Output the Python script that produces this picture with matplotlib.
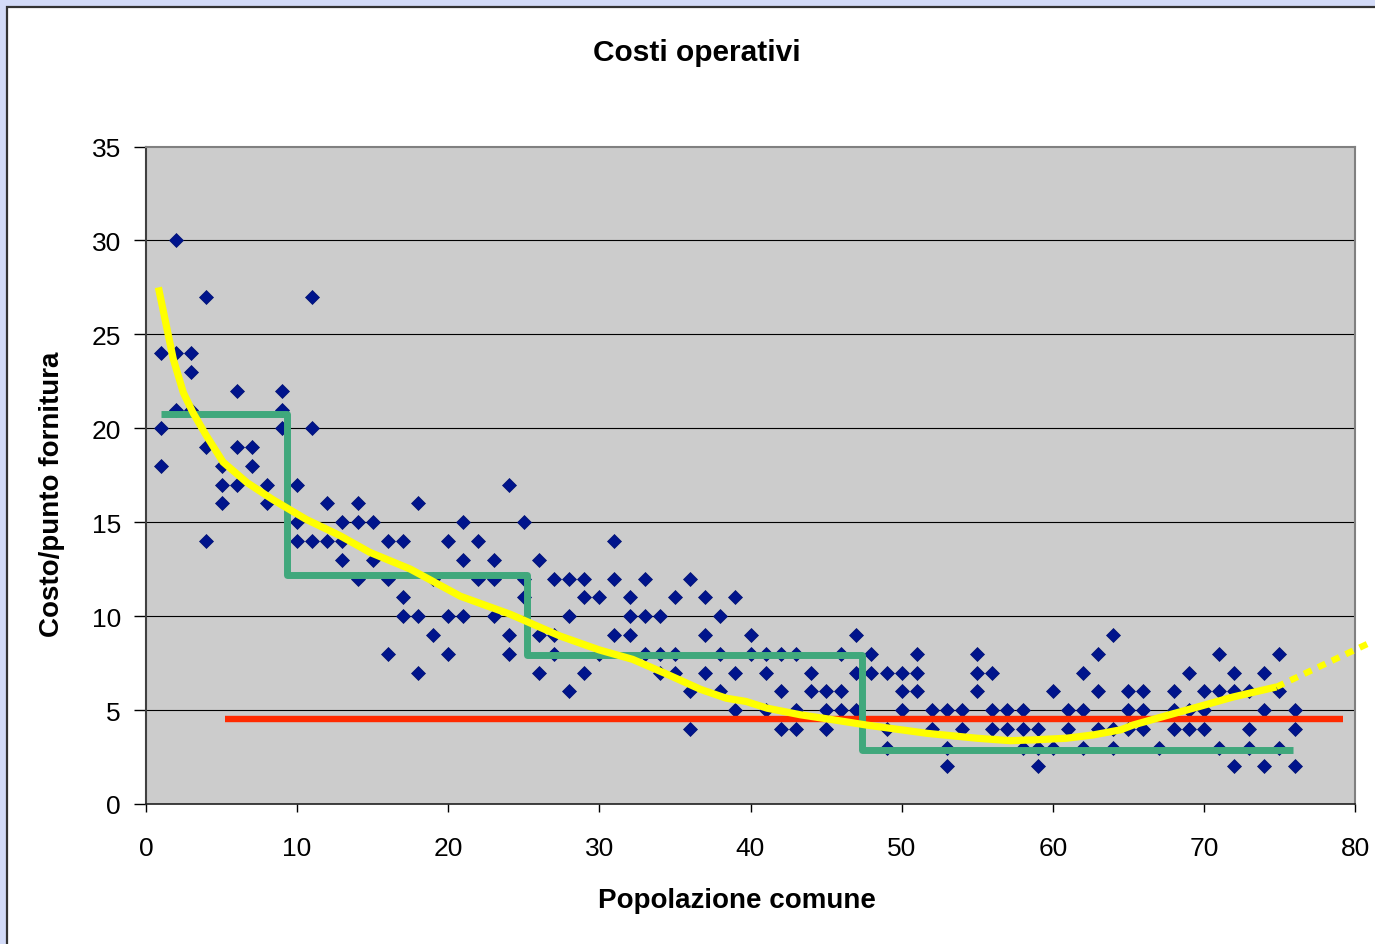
import matplotlib
matplotlib.use("Agg")
import matplotlib.pyplot as plt
from matplotlib.patches import Rectangle

# ---- data ----
pop_x = [2, 4, 11, 1, 2, 3, 3, 6, 9, 2, 3, 9, 1, 9, 11, 4, 6, 7, 1, 5, 7,
         5, 6, 8, 10, 5, 8, 12, 14, 4, 10, 13, 14, 15, 10, 11, 12, 13, 13,
         18, 24, 21, 25, 16, 17, 20, 22, 31, 15, 21, 23, 26,
         14, 16, 19, 22, 23, 25, 27, 28, 29, 31,
         17, 25, 29, 30, 17, 18, 20, 21, 23, 28,
         19, 24, 26, 27, 31, 16, 20, 24, 27, 30, 18, 26, 29, 28,
         33, 36, 32, 35, 37, 39, 32, 33, 34, 38, 32, 37, 40, 47,
         33, 34, 35, 38, 40, 41, 42, 43, 46, 48,
         34, 35, 37, 39, 41, 44, 47, 48,
         36, 38, 42, 44, 45, 46, 39, 41, 43, 45, 46, 47, 36, 42, 43, 45,
         64, 51, 55, 63, 49, 50, 51, 55, 56, 62, 50, 51, 55, 60, 63,
         50, 52, 53, 54, 56, 57, 58, 61, 62,
         49, 52, 54, 56, 57, 58, 59, 61, 63,
         49, 53, 58, 59, 60, 62, 53, 59,
         71, 75, 69, 72, 74, 65, 66, 68, 70, 71, 72, 73, 75,
         65, 66, 68, 69, 70, 74, 76, 64, 65, 66, 68, 69, 70, 73, 76,
         64, 67, 71, 73, 75, 72, 74, 76]
cost_y = [30, 27, 27, 24, 24, 24, 23, 22, 22, 21, 21, 21, 20, 20, 20, 19, 19, 19, 18, 18, 18,
          17, 17, 17, 17, 16, 16, 16, 16, 14, 15, 15, 15, 15, 14, 14, 14, 14, 13,
          16, 17, 15, 15, 14, 14, 14, 14, 14, 13, 13, 13, 13,
          12, 12, 12, 12, 12, 12, 12, 12, 12, 12,
          11, 11, 11, 11, 10, 10, 10, 10, 10, 10,
          9, 9, 9, 9, 9, 8, 8, 8, 8, 8, 7, 7, 7, 6,
          12, 12, 11, 11, 11, 11, 10, 10, 10, 10, 9, 9, 9, 9,
          8, 8, 8, 8, 8, 8, 8, 8, 8, 8,
          7, 7, 7, 7, 7, 7, 7, 7,
          6, 6, 6, 6, 6, 6, 5, 5, 5, 5, 5, 5, 4, 4, 4, 4,
          9, 8, 8, 8, 7, 7, 7, 7, 7, 7, 6, 6, 6, 6, 6,
          5, 5, 5, 5, 5, 5, 5, 5, 5,
          4, 4, 4, 4, 4, 4, 4, 4, 4,
          3, 3, 3, 3, 3, 3, 2, 2,
          8, 8, 7, 7, 7, 6, 6, 6, 6, 6, 6, 6, 6,
          5, 5, 5, 5, 5, 5, 5, 4, 4, 4, 4, 4, 4, 4, 4,
          3, 3, 3, 3, 3, 2, 2, 2]

trend_x = [0.82, 1.26, 1.8, 2.47, 3.13, 4.0, 5.1, 6.7, 8.4, 10.6, 12.8, 14.8,
           17.5, 20.8, 24.1, 27.4, 30.0, 32.2, 34.5, 36.7, 38.4, 39.7, 41.1,
           43.3, 45.5, 47.7, 51.7, 55.0, 57.2, 58.9, 60.9, 62.7, 64.5, 65.3,
           67.5, 69.75, 71.95, 74.8]
trend_y = [27.5, 25.8, 23.7, 21.9, 20.8, 19.6, 18.2, 17.1, 16.2, 15.15, 14.3, 13.4,
           12.5, 11.06, 10.1, 8.94, 8.2, 7.7, 6.9, 6.1, 5.63, 5.46, 5.1,
           4.75, 4.48, 4.2, 3.76, 3.5, 3.37, 3.42, 3.5, 3.68, 3.95, 4.2,
           4.7, 5.2, 5.7, 6.23]
proj_x = [74.8, 80.9]
proj_y = [6.23, 8.55]

step_edges = [1.0, 9.3, 25.2, 47.4, 75.9]
step_levels = [20.75, 12.2, 7.95, 2.85]

mean_x = [5.2, 79.2]
mean_y = [4.5, 4.5]

title = "Costi operativi"
xlabel = "Popolazione comune"
ylabel = "Costo/punto fornitura"
xticks = [0, 10, 20, 30, 40, 50, 60, 70, 80]
yticks = [0, 5, 10, 15, 20, 25, 30, 35]

# ---- figure ----
W, H = 1375, 945
plt.rcParams['font.family'] = ['Liberation Sans', 'DejaVu Sans']
fig = plt.figure(figsize=(W / 100, H / 100), dpi=100)
fig.patch.set_facecolor('#D3DBF8')
fig.patches.append(Rectangle((7 / W, -0.05), 1.2, (H - 8) / H + 0.05,
                             transform=fig.transFigure, facecolor='white',
                             edgecolor='#333333', linewidth=1.6, zorder=-10))

ax = fig.add_axes([146 / W, (H - 805) / H, (1355 - 146) / W, (805 - 147.5) / H])
ax.set_zorder(1)
ax.set_facecolor('#CCCCCC')
ax.set_xlim(0, 80)
ax.set_ylim(0, 35)

for yv in yticks[1:-1]:
    ax.axhline(yv, color='black', linewidth=0.8, zorder=1)

ax.plot(pop_x, cost_y, linestyle='none', marker='D', markersize=7.2,
        markerfacecolor='#00148C', markeredgecolor='#001070',
        markeredgewidth=0.5, zorder=3)

ax.plot(mean_x, mean_y, color='#FF2A00', linewidth=4.6,
        solid_capstyle='butt', zorder=4)

sx = []
sy = []
for i, lv in enumerate(step_levels):
    sx += [step_edges[i], step_edges[i + 1]]
    sy += [lv, lv]
ax.plot(sx, sy, color='#40A87C', linewidth=5.0,
        solid_joinstyle='round', solid_capstyle='butt', zorder=5)

ax.plot(trend_x, trend_y, color='#FFFF00', linewidth=5.2,
        solid_capstyle='butt', solid_joinstyle='round', zorder=6)
ax.plot(proj_x, proj_y, color='#FFFF00', linewidth=4.6,
        linestyle=(0, (1.3, 1.1)), dash_capstyle='butt', clip_on=False, zorder=6)

ax.set_xticks(xticks)
ax.set_yticks(yticks)
ax.tick_params(axis='x', direction='out', length=6, width=1, pad=17,
               labelsize=19, colors='black')
ax.tick_params(axis='y', direction='out', length=9, width=1, pad=9,
               labelsize=19, colors='black')
for s in ['top', 'right']:
    ax.spines[s].set_color('#808080')
    ax.spines[s].set_linewidth(1.5)
ax.spines['left'].set_color('#404040')
ax.spines['left'].set_linewidth(1.5)
ax.spines['bottom'].set_color('#202020')
ax.spines['bottom'].set_linewidth(1.2)

fig.text(697 / W, 1 - 53 / H, title, ha='center', va='center',
         fontsize=21.5, fontweight='bold')
fig.text(737 / W, 1 - 901 / H, xlabel, ha='center', va='center',
         fontsize=20, fontweight='bold')
fig.text(52 / W, 1 - 494 / H, ylabel, ha='center', va='center',
         rotation=90, fontsize=20, fontweight='bold')

fig.savefig('out.png', dpi=100, facecolor=fig.get_facecolor())
